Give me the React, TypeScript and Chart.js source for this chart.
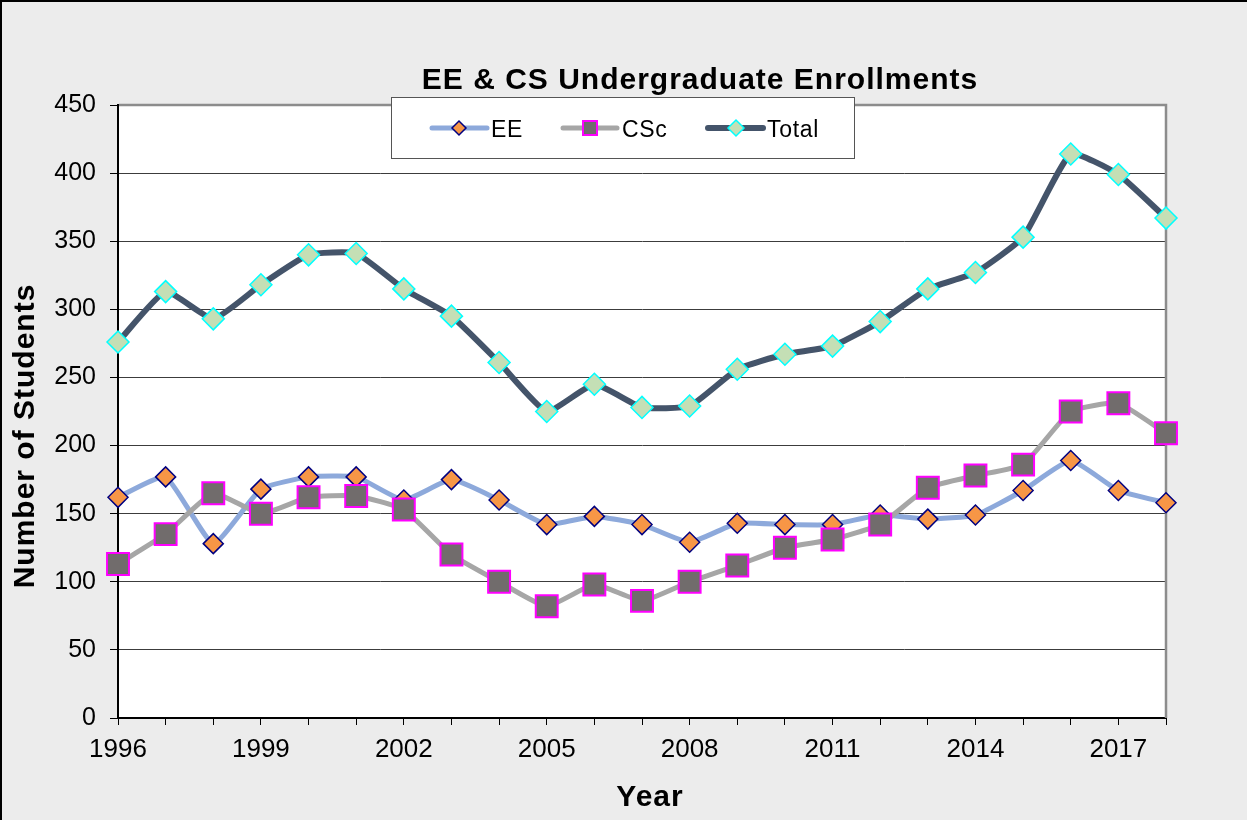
import { useEffect, useRef } from 'react';
import { Chart, registerables } from 'chart.js';

Chart.register(...registerables);

const years = [1996, 1997, 1998, 1999, 2000, 2001, 2002, 2003, 2004, 2005, 2006, 2007, 2008, 2009, 2010, 2011, 2012, 2013, 2014, 2015, 2016, 2017, 2018];
const eeValues = [162, 177, 128, 168, 177, 177, 160, 175, 160, 142, 148, 142, 129, 143, 142, 142, 149, 146, 149, 167, 189, 167, 158];
const cscValues = [113, 135, 165, 150, 162, 163, 153, 120, 100, 82, 98, 86, 100, 112, 125, 131, 142, 169, 178, 186, 225, 231, 209];
const totalValues = [276, 313, 293, 318, 340, 341, 315, 295, 261, 225, 245, 228, 229, 256, 267, 273, 291, 315, 327, 353, 414, 399, 367];
const seriesNames = ['EE', 'CSc', 'Total'];
const chartTitle = 'EE & CS Undergraduate Enrollments';
const xTitle = 'Year';
const yTitle = 'Number of Students';

const FONT = '"Liberation Sans", Arial, sans-serif';

function drawMarker(ctx: CanvasRenderingContext2D, style: string, x: number, y: number, r: number, fill: string, stroke: string, lw: number) {
  ctx.beginPath();
  if (style === 'rect') {
    ctx.rect(x - r, y - r, 2 * r, 2 * r);
  } else {
    ctx.moveTo(x - r, y);
    ctx.lineTo(x, y - r);
    ctx.lineTo(x + r, y);
    ctx.lineTo(x, y + r);
    ctx.closePath();
  }
  ctx.fillStyle = fill;
  ctx.fill();
  ctx.lineWidth = lw;
  ctx.strokeStyle = stroke;
  ctx.stroke();
}

const decorPlugin = {
  id: 'decor',
  beforeDraw(chart: any) {
    const { ctx, width, height, chartArea: a } = chart;
    ctx.save();
    ctx.fillStyle = '#ececec';
    ctx.fillRect(0, 0, width, height);
    ctx.fillStyle = '#000';
    ctx.fillRect(0, 0, 2, height);
    ctx.fillRect(0, 0, width, 2);
    ctx.fillStyle = '#ffffff';
    ctx.fillRect(a.left, a.top, a.right - a.left, a.bottom - a.top);
    ctx.restore();
  },
  beforeDatasetsDraw(chart: any) {
    const { ctx, chartArea: a } = chart;
    ctx.save();
    ctx.strokeStyle = '#8c8c8c';
    ctx.lineWidth = 2.5;
    ctx.beginPath();
    ctx.moveTo(a.left + 1, a.top);
    ctx.lineTo(a.right, a.top);
    ctx.lineTo(a.right, a.bottom);
    ctx.stroke();
    ctx.restore();
  },
  afterDraw(chart: any) {
    const { ctx } = chart;
    ctx.save();
    // titles
    ctx.fillStyle = '#000';
    ctx.font = `bold 30px ${FONT}`;
    (ctx as any).letterSpacing = '1px';
    ctx.textAlign = 'center';
    ctx.textBaseline = 'alphabetic';
    ctx.fillText(chartTitle, 700, 89);
    ctx.fillText(xTitle, 650, 806);
    ctx.save();
    ctx.translate(34, 436);
    ctx.rotate(-Math.PI / 2);
    ctx.fillText(yTitle, 0, 0);
    ctx.restore();

    // legend box
    ctx.fillStyle = '#ffffff';
    ctx.fillRect(391, 97, 464, 61);
    ctx.strokeStyle = '#555555';
    ctx.lineWidth = 1;
    ctx.strokeRect(391.5, 97.5, 463, 61);

    const items = [
      { x0: 432, x1: 487, mx: 459, tx: 491, r: 7 },
      { x0: 563, x1: 617, mx: 590, tx: 622, r: 7 },
      { x0: 708, x1: 763, mx: 736, tx: 767, r: 8 },
    ];
    chart.data.datasets.forEach((ds: any, i: number) => {
      const it = items[i];
      ctx.strokeStyle = ds.borderColor;
      ctx.lineWidth = ds.borderWidth;
      ctx.lineCap = 'round';
      ctx.beginPath();
      ctx.moveTo(it.x0, 128);
      ctx.lineTo(it.x1, 128);
      ctx.stroke();
      ctx.lineCap = 'butt';
      drawMarker(ctx, ds.pointStyle, it.mx, 128, it.r, ds.pointBackgroundColor, ds.pointBorderColor, ds.pointBorderWidth);
      ctx.fillStyle = '#000';
      ctx.font = `23px ${FONT}`;
      (ctx as any).letterSpacing = '0.7px';
      ctx.textAlign = 'left';
      ctx.fillText(ds.label, it.tx, 137);
    });
    ctx.restore();
  },
};

export default function App() {
  const ref = useRef<HTMLCanvasElement>(null);
  useEffect(() => {
    const toPts = (vals: number[]) => years.map((y, i) => ({ x: y, y: vals[i] }));
    const chart = new Chart(ref.current as HTMLCanvasElement, {
      type: 'line',
      data: {
        datasets: [
          {
            label: seriesNames[0],
            data: toPts(eeValues),
            borderColor: '#8DA9DB',
            borderWidth: 5,
            tension: 0.15,
            clip: false,
            pointStyle: 'rectRot',
            pointRadius: 10,
            pointHoverRadius: 10,
            pointBackgroundColor: '#F79646',
            pointBorderColor: '#000080',
            pointBorderWidth: 1.5,
            order: 3,
          },
          {
            label: seriesNames[1],
            data: toPts(cscValues),
            borderColor: '#A6A6A6',
            borderWidth: 5,
            tension: 0.15,
            clip: false,
            pointStyle: 'rect',
            pointRadius: 15.5,
            pointHoverRadius: 15.5,
            pointBackgroundColor: '#716C6C',
            pointBorderColor: '#FF00FF',
            pointBorderWidth: 2,
            order: 2,
          },
          {
            label: seriesNames[2],
            data: toPts(totalValues),
            borderColor: '#44546A',
            borderWidth: 6,
            tension: 0.15,
            clip: false,
            pointStyle: 'rectRot',
            pointRadius: 11,
            pointHoverRadius: 11,
            pointBackgroundColor: '#C4DFB5',
            pointBorderColor: '#00FFFF',
            pointBorderWidth: 1.5,
            order: 1,
          },
        ],
      } as any,
      plugins: [decorPlugin as any],
      options: {
        responsive: false,
        animation: false,
        events: [],
        layout: { padding: { left: 0, top: 105, right: 81, bottom: 0 } },
        plugins: {
          legend: { display: false },
          title: { display: false },
          tooltip: { enabled: false },
        },
        scales: {
          x: {
            type: 'linear',
            min: 1996,
            max: 2018,
            afterFit: (s: any) => { s.height = 102; },
            grid: { drawOnChartArea: false, drawTicks: true, tickLength: 7, tickColor: '#000', color: '#000' },
            border: { display: true, color: '#000', width: 2 },
            ticks: {
              stepSize: 1,
              autoSkip: false,
              maxRotation: 0,
              padding: 9,
              color: '#000',
              font: { family: FONT, size: 26 },
              callback: (v: any) => ((Number(v) - years[0]) % 3 === 0 ? String(v) : ''),
            },
          },
          y: {
            type: 'linear',
            min: 0,
            max: 450,
            afterFit: (s: any) => { s.width = 118; },
            grid: { color: '#3c3c3c', lineWidth: 1, tickLength: 8, tickColor: '#000' },
            border: { display: true, color: '#000', width: 2 },
            ticks: {
              stepSize: 50,
              padding: 14,
              color: '#000',
              font: { family: FONT, size: 25 },
            },
          },
        },
      } as any,
    });
    return () => chart.destroy();
  }, []);
  return (
    <div style={{ position: 'absolute', left: 0, top: 0, width: 1247, height: 820 }}>
      <canvas ref={ref} width={1247} height={820} style={{ display: 'block' }} />
    </div>
  );
}
